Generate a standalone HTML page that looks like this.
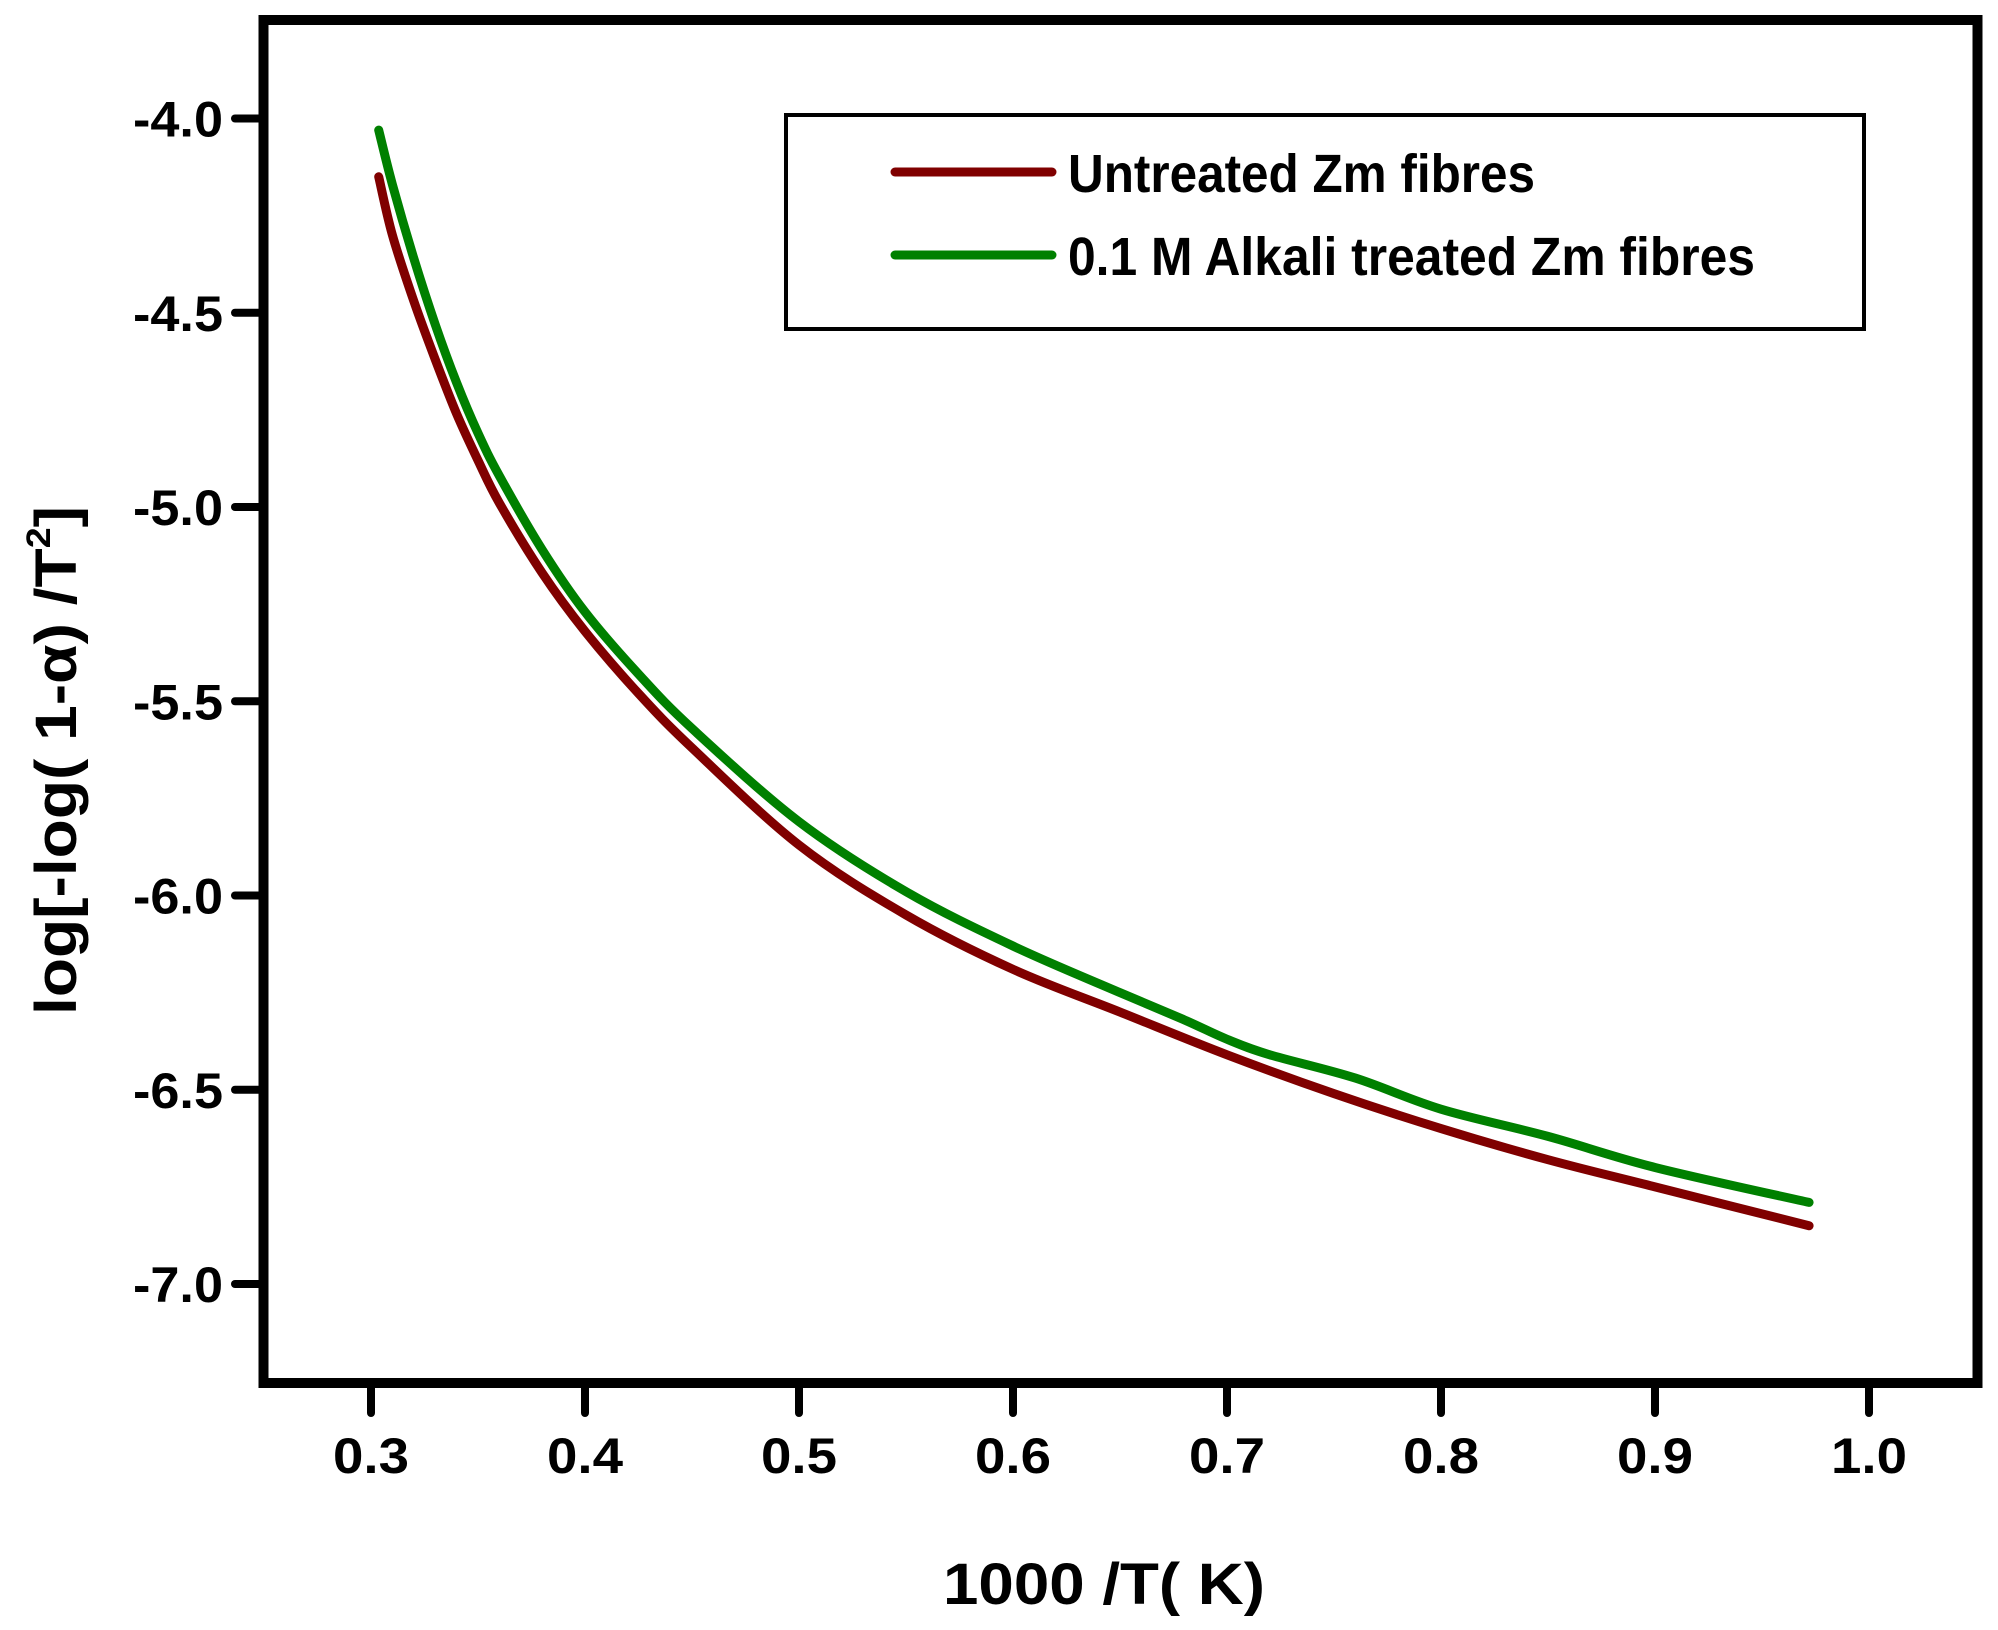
<!DOCTYPE html>
<html><head><meta charset="utf-8"><style>
html,body{margin:0;padding:0;background:#fff;}
svg{display:block;}
text{font-family:"Liberation Sans",sans-serif;font-weight:bold;fill:#000;}
</style></head><body>
<svg id="chart" width="1998" height="1630" viewBox="0 0 1998 1630" xmlns="http://www.w3.org/2000/svg">
<rect x="263.5" y="20" width="1714" height="1363" fill="none" stroke="#000" stroke-width="10"/>
<g id="xticks"></g>
<g id="yticks"></g>
<g id="series"></g>
<g>
<rect x="786" y="115" width="1078" height="214" fill="none" stroke="#000" stroke-width="4"/>
<line x1="895" y1="172" x2="1052" y2="172" stroke="#800000" stroke-width="9" stroke-linecap="round"/>
<text x="1068" y="192" font-size="54" textLength="467" lengthAdjust="spacingAndGlyphs">Untreated Zm fibres</text>
<line x1="895" y1="255" x2="1052" y2="255" stroke="#008000" stroke-width="9" stroke-linecap="round"/>
<text x="1068" y="275" font-size="54" textLength="687" lengthAdjust="spacingAndGlyphs">0.1 M Alkali treated Zm fibres</text>
</g>
<text x="943" y="1604" font-size="58" textLength="322" lengthAdjust="spacingAndGlyphs">1000 /T(   K)</text>
<text transform="translate(76,1015) rotate(-90)" font-size="58" textLength="509" lengthAdjust="spacingAndGlyphs">log[-log(  1-α)   /T<tspan font-size="34" dy="-26">2</tspan><tspan dy="26">]</tspan></text>
</svg>
<script>
const xTicks = [0.3,0.4,0.5,0.6,0.7,0.8,0.9,1.0];
const xTickLabels = ["0.3","0.4","0.5","0.6","0.7","0.8","0.9","1.0"];
const yTicks = [-4.0,-4.5,-5.0,-5.5,-6.0,-6.5,-7.0];
const yTickLabels = ["-4.0","-4.5","-5.0","-5.5","-6.0","-6.5","-7.0"];
const xValues = [0.3036,0.31,0.32,0.33,0.34,0.35,0.36,0.38,0.4,0.425,0.45,0.5,0.55,0.6,0.65,0.7,0.75,0.8,0.85,0.9,0.972];
const untreated = [-4.15,-4.30,-4.47,-4.62,-4.76,-4.88,-4.99,-5.17,-5.32,-5.48,-5.62,-5.87,-6.05,-6.19,-6.30,-6.41,-6.51,-6.60,-6.68,-6.75,-6.85];
const alkaliX = [0.3036,0.31,0.32,0.33,0.34,0.35,0.36,0.38,0.4,0.425,0.45,0.5,0.55,0.6,0.65,0.68,0.7,0.72,0.76,0.8,0.85,0.9,0.972];
const alkali = [-4.03,-4.17,-4.36,-4.53,-4.68,-4.81,-4.92,-5.11,-5.27,-5.43,-5.57,-5.81,-5.99,-6.13,-6.25,-6.32,-6.37,-6.41,-6.47,-6.55,-6.62,-6.70,-6.79];
const NS="http://www.w3.org/2000/svg";
function xs(v){return 371+(v-0.3)*2140;}
function ys(v){return 118.5+(-4.0-v)*388.5;}
const gx=document.getElementById('xticks'), gy=document.getElementById('yticks'), gs=document.getElementById('series');
xTicks.forEach((t,i)=>{
 const l=document.createElementNS(NS,'line');
 
 
 l.setAttribute('x1',xs(t));l.setAttribute('x2',xs(t));l.setAttribute('y1',1383);l.setAttribute('y2',1413);
 l.setAttribute('stroke','#000');l.setAttribute('stroke-width',8);l.setAttribute('stroke-linecap','round');
 gx.appendChild(l);
 const tx=document.createElementNS(NS,'text');
 
 
 tx.setAttribute('x',xs(t));tx.setAttribute('y',1473);tx.setAttribute('font-size',50);
 tx.setAttribute('text-anchor','middle');tx.setAttribute('textLength',76);tx.setAttribute('lengthAdjust','spacingAndGlyphs');
 tx.textContent=xTickLabels[i];gx.appendChild(tx);
});
yTicks.forEach((t,i)=>{
 const l=document.createElementNS(NS,'line');
 
 
 l.setAttribute('x1',235);l.setAttribute('x2',263);l.setAttribute('y1',ys(t));l.setAttribute('y2',ys(t));
 l.setAttribute('stroke','#000');l.setAttribute('stroke-width',8);l.setAttribute('stroke-linecap','round');
 gy.appendChild(l);
 const tx=document.createElementNS(NS,'text');
 
 
 tx.setAttribute('x',133);tx.setAttribute('y',ys(t)+18);tx.setAttribute('font-size',50);
 tx.setAttribute('textLength',90);tx.setAttribute('lengthAdjust','spacingAndGlyphs');
 tx.textContent=yTickLabels[i];gy.appendChild(tx);
});
function path(xv,yv,color,name){
 const p=document.createElementNS(NS,'path');
 
 
 const pts=xv.map((x,i)=>[xs(x),ys(yv[i])]);
 let d='M'+pts[0][0]+','+pts[0][1];
 for(let i=0;i<pts.length-1;i++){
  const p0=pts[Math.max(0,i-1)],p1=pts[i],p2=pts[i+1],p3=pts[Math.min(pts.length-1,i+2)];
  const c1=[p1[0]+(p2[0]-p0[0])/6,p1[1]+(p2[1]-p0[1])/6];
  const c2=[p2[0]-(p3[0]-p1[0])/6,p2[1]-(p3[1]-p1[1])/6];
  d+=' C'+c1+' '+c2+' '+p2;
 }
 p.setAttribute('d',d);p.setAttribute('fill','none');p.setAttribute('stroke',color);
 p.setAttribute('stroke-width',9);p.setAttribute('stroke-linecap','round');p.setAttribute('stroke-linejoin','round');
 gs.appendChild(p);
}
path(xValues,untreated,'#800000','line-untreated');
path(alkaliX,alkali,'#008000','line-alkali-treated');
</script>
</body></html>
